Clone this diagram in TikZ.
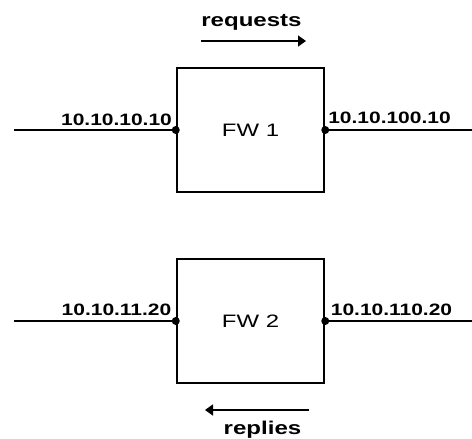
\documentclass[tikz,border=0pt]{standalone}
\usepackage{fontspec}
\setmainfont{Liberation Sans}
\usetikzlibrary{arrows.meta}
\begin{document}
\begin{tikzpicture}[x=1pt,y=-1pt,
  fwbox/.style={draw,line width=2.5pt,minimum width=147pt,minimum height=124pt,inner sep=0pt,
    font=\fontsize{18}{18}\selectfont},
  wire/.style={line width=2.5pt},
  port/.style={circle,fill=black,inner sep=0pt,minimum size=8pt},
  iplabel/.style={anchor=base,inner sep=0pt,font=\bfseries\fontsize{16.5}{16.5}\selectfont},
  flow/.style={line width=1.4pt,-{Triangle[length=8pt,width=11pt]}},
  flowlabel/.style={anchor=base,inner sep=0pt,font=\bfseries\fontsize{18.5}{18.5}\selectfont}]
\useasboundingbox (0,0) rectangle (472,439);
% boxes
\node[fwbox] (fw1) at (250.5,130) {\scalebox{1.33}[1]{FW 1}};
\node[fwbox] (fw2) at (250.5,321) {\scalebox{1.33}[1]{FW 2}};
% wire end points
\coordinate (l1) at (14,130);
\coordinate (r1) at (472,130);
\coordinate (l2) at (14,321);
\coordinate (r2) at (472,321);
\draw[wire] (l1) -- (fw1.west);
\draw[wire] (fw1.east) -- (r1);
\draw[wire] (l2) -- (fw2.west);
\draw[wire] (fw2.east) -- (r2);
\node[port] (p1l) at (fw1.west) {};
\node[port] (p1r) at (fw1.east) {};
\node[port] (p2l) at (fw2.west) {};
\node[port] (p2r) at (fw2.east) {};
% ip labels
\node[iplabel] (ip1l) at (116.5,125) {\scalebox{1.27}[1]{10.10.10.10}};
\node[iplabel] (ip1r) at (389.5,123) {\scalebox{1.27}[1]{10.10.100.10}};
\node[iplabel] (ip2l) at (116.5,315) {\scalebox{1.27}[1]{10.10.11.20}};
\node[iplabel] (ip2r) at (391.5,315) {\scalebox{1.27}[1]{10.10.110.20}};
% flows
\node[flowlabel] (req) at (251.5,27) {\scalebox{1.3}[1]{requests}};
\coordinate (a1s) at (201,41);
\coordinate (a1e) at (306,41);
\draw[flow] (a1s) -- (a1e);
\coordinate (a2s) at (309,410);
\coordinate (a2e) at (205,410);
\draw[flow] (a2s) -- (a2e);
\node[flowlabel] (rep) at (262.5,434) {\scalebox{1.3}[1]{replies}};
\end{tikzpicture}
\end{document}
